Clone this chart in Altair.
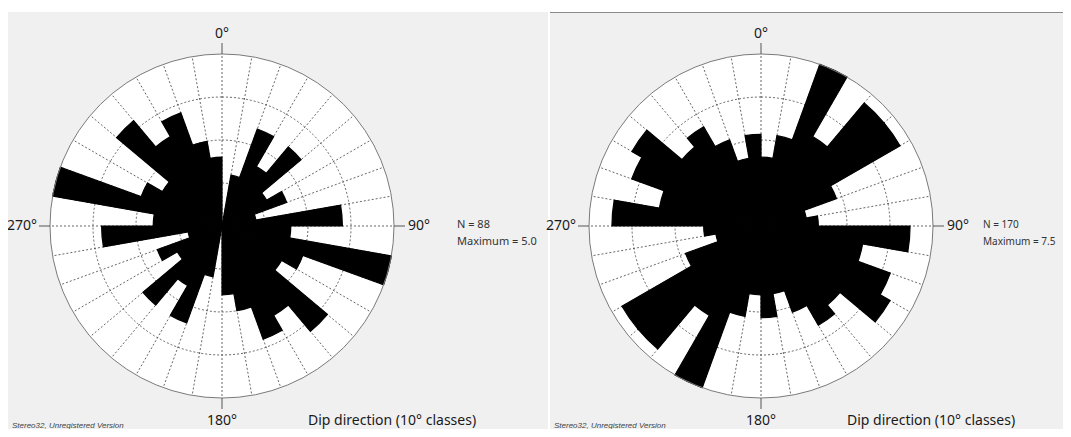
import math
import altair as alt
import pandas as pd

# ---------------- data ----------------
bin_start = [0, 10, 20, 30, 40, 50, 60, 70, 80, 90, 100, 110, 120, 130, 140, 150, 160, 170,
             180, 190, 200, 210, 220, 230, 240, 250, 260, 270, 280, 290, 300, 310, 320, 330, 340, 350]
left_values = [0.0, 1.5, 3.0, 2.0, 3.0, 1.5, 2.0, 1.0, 3.5, 2.0, 5.0, 2.5, 2.0, 4.0, 3.0, 3.5, 2.5, 2.0,
               0.0, 1.5, 3.0, 2.0, 3.0, 1.5, 2.0, 1.0, 3.5, 2.0, 5.0, 2.5, 2.0, 4.0, 3.0, 3.5, 2.5, 2.0]
right_values = [3.0, 4.0, 7.5, 4.5, 7.0, 7.0, 3.5, 2.0, 2.5, 6.5, 4.5, 6.0, 6.5, 4.5, 5.0, 4.0, 3.0, 4.0,
                3.0, 4.0, 7.5, 4.5, 7.0, 7.0, 3.5, 2.0, 2.5, 6.5, 4.5, 6.0, 6.5, 4.5, 5.0, 4.0, 3.0, 4.0]
left_max = 5.0
right_max = 7.5
ring_fracs = [0.25, 0.5, 0.75]
cardinal_angles = [0, 90, 180, 270]
cardinal_labels = ["0°", "90°", "180°", "270°"]
left_stats = ["N = 88", "Maximum = 5.0"]
right_stats = ["N = 170", "Maximum = 7.5"]
axis_title = "Dip direction (10° classes)"
credit = "Stereo32, Unregistered Version"

# ---------------- layout (page pixel coordinates) ----------------
W, H = 1055, 421
X0, Y0 = 8, 8
R = 172
TICK = 11

xs = alt.Scale(domain=[X0, X0 + W], nice=False, zero=False)
ys = alt.Scale(domain=[Y0, Y0 + H], nice=False, zero=False, reverse=True)
theta_scale = alt.Scale(domain=[0, 360], range=[0, 2 * math.pi])


def X(f):
    return alt.X(f, type="quantitative", scale=xs, axis=None)


def Y(f):
    return alt.Y(f, type="quantitative", scale=ys, axis=None)


def one(**kw):
    return pd.DataFrame([kw])


def text_layer(x, y, label, align, size, color="#1a1a1a", font="Noto Sans", style="normal"):
    return alt.Chart(one(x=x, y=y, t=label)).mark_text(
        align=align, baseline="middle", font=font, fontSize=size, color=color, fontStyle=style
    ).encode(x=X("x"), y=Y("y"), text="t:N")


def panel(cx, cy, values, vmax, stats, px0, px1, border, stats_dx, stats_size):
    rscale = alt.Scale(type="linear", domain=[0, vmax], range=[0, R], zero=True, nice=False)

    def arc_enc():
        return dict(
            x=X("cx"), y=Y("cy"),
            theta=alt.Theta("start:Q", scale=theta_scale, stack=None),
            theta2=alt.Theta2("end:Q"),
            radius=alt.Radius("value:Q", scale=rscale),
        )

    layers = []
    bg = alt.Chart(one(a=px0, b=px1, c=12, d=437)).mark_rect(color="#f0f0f0").encode(
        x=X("a"), x2=alt.X2("b"), y=Y("c"), y2=alt.Y2("d"))
    layers.append(bg)
    if border:
        layers.append(alt.Chart(one(a=px0, b=px1, c=12.5)).mark_rule(color="#8a8a8a", strokeWidth=1).encode(
            x=X("a"), x2=alt.X2("b"), y=Y("c")))

    disk_df = pd.DataFrame({"start": [0], "end": [360], "value": [vmax], "cx": [cx], "cy": [cy]})
    layers.append(alt.Chart(disk_df).mark_arc(color="white").encode(**arc_enc()))

    ring_df = pd.DataFrame({"frac": ring_fracs})
    layers.append(
        alt.Chart(ring_df).transform_calculate(
            value=f"datum.frac * {vmax}", start="0", end="360", cx=str(cx), cy=str(cy)
        ).mark_arc(filled=False, color="#404040", strokeWidth=0.8, strokeDash=[2, 2]).encode(**arc_enc())
    )

    spoke_df = pd.DataFrame({"angle": bin_start})
    layers.append(
        alt.Chart(spoke_df).transform_calculate(
            xa=str(cx), ya=str(cy),
            xb=f"{cx} + {R} * sin(datum.angle * PI / 180)",
            yb=f"{cy} - {R} * cos(datum.angle * PI / 180)",
        ).mark_rule(color="#404040", strokeWidth=0.8, strokeDash=[2, 2]).encode(
            x=X("xa"), y=Y("ya"), x2=alt.X2("xb"), y2=alt.Y2("yb"))
    )

    bar_df = pd.DataFrame({"start": bin_start, "value": values})
    layers.append(
        alt.Chart(bar_df).transform_calculate(
            end="datum.start + 10", cx=str(cx), cy=str(cy)
        ).mark_arc(color="black", stroke="black", strokeWidth=1.2, strokeJoin="miter").encode(**arc_enc())
    )

    layers.append(alt.Chart(disk_df).mark_arc(filled=False, color="#7a7a7a", strokeWidth=1).encode(**arc_enc()))

    tick_df = pd.DataFrame({"angle": cardinal_angles})
    layers.append(
        alt.Chart(tick_df).transform_calculate(
            xa=f"{cx} + {R} * sin(datum.angle * PI / 180)",
            ya=f"{cy} - {R} * cos(datum.angle * PI / 180)",
            xb=f"{cx} + {R + TICK} * sin(datum.angle * PI / 180)",
            yb=f"{cy} - {R + TICK} * cos(datum.angle * PI / 180)",
        ).mark_rule(color="#555555", strokeWidth=1).encode(
            x=X("xa"), y=Y("ya"), x2=alt.X2("xb"), y2=alt.Y2("yb"))
    )

    layers.append(text_layer(cx, 34, cardinal_labels[0], "center", 14))
    layers.append(text_layer(cx + 186, cy, cardinal_labels[1], "left", 14))
    layers.append(text_layer(cx, 421, cardinal_labels[2], "center", 14))
    layers.append(text_layer(cx - 185, cy, cardinal_labels[3], "right", 14))
    layers.append(text_layer(cx + stats_dx, 225, stats[0], "left", stats_size, color="#333333"))
    layers.append(text_layer(cx + stats_dx, 242, stats[1], "left", stats_size, color="#333333"))
    layers.append(text_layer(cx + 86, 421, axis_title, "left", 14))
    layers.append(text_layer(px0 + 4, 426, credit, "left", 8, color="#444444",
                             font="Liberation Sans", style="italic"))
    return layers


all_layers = []
all_layers += panel(222, 226, left_values, left_max, left_stats, 8, 548, False, 235, 11)
all_layers += panel(761, 226, right_values, right_max, right_stats, 550, 1063, True, 222, 10)

chart = alt.layer(*all_layers).properties(
    width=W, height=H, padding=0, background="white",
    autosize=alt.AutoSizeParams(type="none"),
).resolve_scale(radius="independent", theta="independent").configure_view(stroke=None)

chart.save("out.html", embed_options={"renderer": "svg", "actions": False})
